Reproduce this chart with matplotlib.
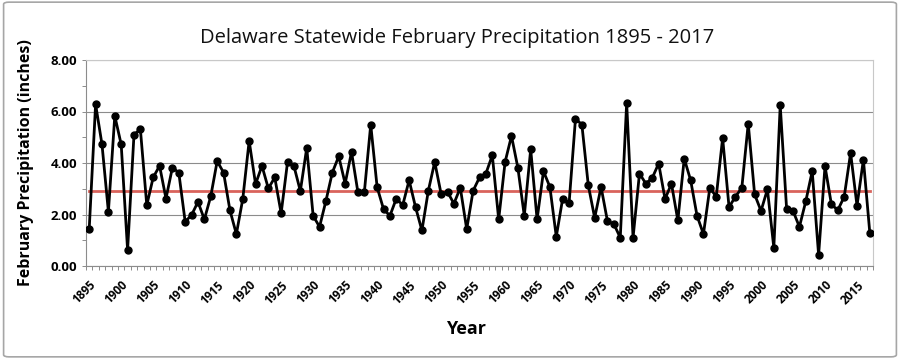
import numpy as np
import matplotlib
matplotlib.use('Agg')
import matplotlib.pyplot as plt
from matplotlib.patches import FancyBboxPatch

# February precipitation (inches), Delaware statewide
years = list(range(1895, 2018))
precip = [
    1.43, 6.28, 4.72, 2.11, 5.83, 4.72, 0.62, 5.10, 5.31, 2.36,  # 1895-1904
    3.44, 3.89, 2.62, 3.82, 3.63, 1.72, 1.98, 2.49, 1.81, 2.71,  # 1905-1914
    4.07, 3.63, 2.16, 1.24, 2.60, 4.86, 3.18, 3.89, 3.01, 3.44,  # 1915-1924
    2.05, 4.04, 3.88, 2.91, 4.59, 1.95, 1.52, 2.53, 3.63, 4.26,  # 1925-1934
    3.20, 4.43, 2.86, 2.86, 5.49, 3.06, 2.21, 1.95, 2.62, 2.36,  # 1935-1944
    3.33, 2.29, 1.38, 2.92, 4.04, 2.80, 2.88, 2.42, 3.04, 1.43,  # 1945-1954
    2.92, 3.44, 3.59, 4.30, 1.81, 4.04, 5.05, 3.81, 1.95, 4.53,  # 1955-1964
    1.81, 3.68, 3.07, 1.14, 2.62, 2.43, 5.72, 5.49, 3.14, 1.87,  # 1965-1974
    3.07, 1.74, 1.63, 1.10, 6.33, 1.10, 3.59, 3.20, 3.42, 3.98,  # 1975-1984
    2.60, 3.20, 1.77, 4.17, 3.33, 1.95, 1.24, 3.04, 2.69, 4.97,  # 1985-1994
    2.29, 2.69, 3.04, 5.53, 2.78, 2.14, 2.98, 0.71, 6.24, 2.21,  # 1995-2004
    2.14, 1.52, 2.52, 3.68, 0.43, 3.88, 2.39, 2.17, 2.69, 4.39,  # 2005-2014
    2.34, 4.13, 1.29,                                              # 2015-2017
]
average = 2.91
label_years = list(range(1895, 2018, 5))

title = 'Delaware Statewide February Precipitation 1895 - 2017'
xlabel = 'Year'
ylabel = 'February Precipitation (inches)'

plt.rcParams['font.family'] = ['Open Sans', 'DejaVu Sans']

fig = plt.figure(figsize=(9.0, 3.59), dpi=100)
ax = fig.add_axes([86 / 900, 1 - 266 / 359, (873 - 86) / 900, (266 - 60) / 359])

# outer chart border
fig.patches.append(FancyBboxPatch((0.004, 0.006), 0.992, 0.988,
                                  boxstyle='round,pad=0,rounding_size=0.006',
                                  transform=fig.transFigure, fill=False,
                                  edgecolor='#a6a6a6', linewidth=1.2))

x = np.arange(len(years))
ax.plot(x, precip, color='black', linewidth=2.0, marker='o',
        markersize=5, zorder=4)
ax.plot([x[0], x[-1]], [average, average], color='#d9635c',
        linewidth=2.0, zorder=3)

ax.set_xlim(-0.5, len(years) - 0.5)
ax.set_ylim(0, 8)
ax.set_yticks(np.arange(0, 8.01, 2))
ax.set_yticks(np.arange(0, 8.01, 1), minor=True)
ax.set_yticklabels(['%.2f' % v for v in np.arange(0, 8.01, 2)],
                   fontsize=9.5, fontweight='bold')
ax.yaxis.grid(True, color='#8c8c8c', linewidth=0.8)
ax.set_axisbelow(True)

ax.set_xticks([years.index(y) for y in label_years])
ax.set_xticklabels([str(y) for y in label_years], rotation=45, ha='right',
                   rotation_mode='anchor', fontsize=8.5, fontweight='bold')
ax.set_xticks(np.arange(-0.5, len(years), 1), minor=True)
ax.tick_params(axis='x', which='major', length=0, pad=9)
ax.tick_params(axis='x', which='minor', length=3, color='#8c8c8c', width=0.7)
ax.tick_params(axis='y', which='both', length=3, color='#8c8c8c', width=0.7)

for side in ['left', 'bottom']:
    ax.spines[side].set_color('#8c8c8c')
for side in ['top', 'right']:
    ax.spines[side].set_color('#c8c8c8')

# title and x label are centred on the whole chart, not the plot area
fig.text(457 / 900, 1 - 38 / 359, title, fontsize=14.5, ha='center',
         va='center', color='#111111')
fig.text(466 / 900, 1 - 329 / 359, xlabel, fontsize=13, fontweight='bold',
         ha='center', va='center')
ax.set_ylabel(ylabel, fontsize=11.5, fontweight='bold', labelpad=12)

fig.savefig('out.png', dpi=100)
